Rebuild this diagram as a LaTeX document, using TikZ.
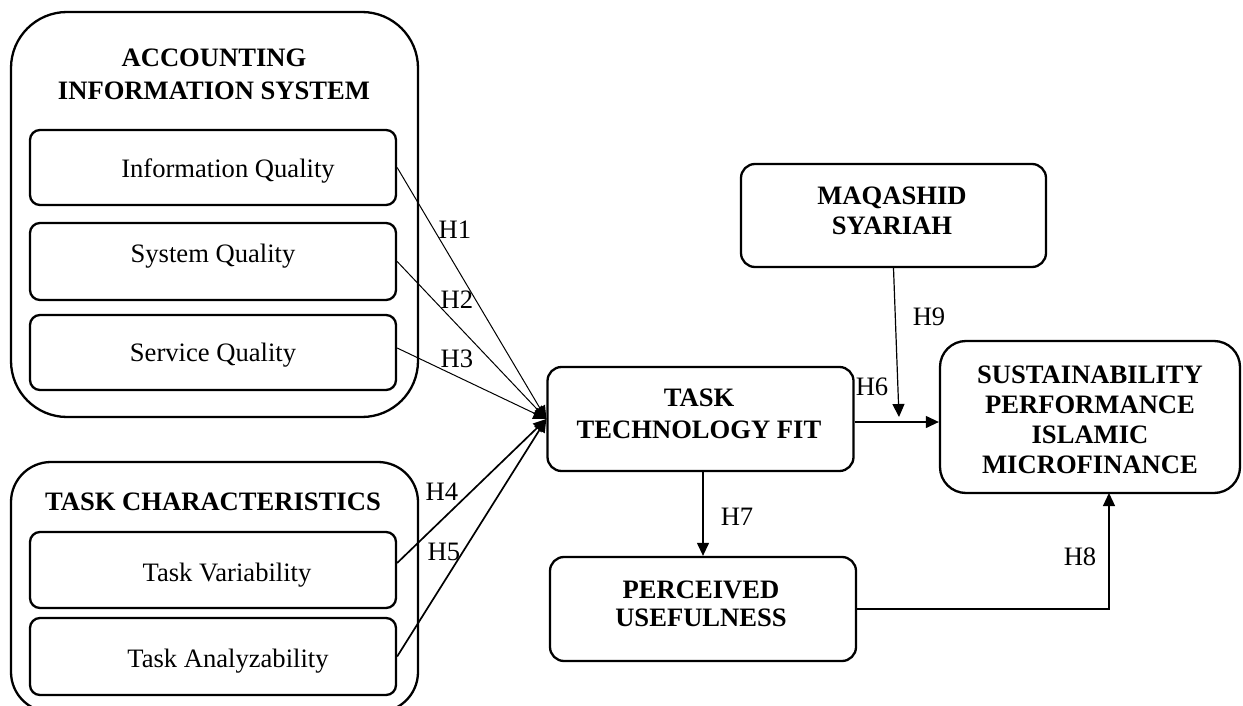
\documentclass[tikz,border=0pt]{standalone}
\usepackage{fontspec}
\setmainfont{Liberation Serif}
\usetikzlibrary{arrows.meta}
\begin{document}
\begin{tikzpicture}[x=0.5pt,y=-0.5pt,
  font=\fontsize{13.3pt}{15pt}\selectfont,
  group/.style={draw, line width=1.15pt, rounded corners=#1, inner sep=0pt, minimum width=203.5pt},
  item/.style={draw, line width=1.15pt, rounded corners=5pt, inner sep=0pt, minimum width=183pt},
  construct/.style={draw, line width=1.15pt, rounded corners=7pt, inner sep=0pt},
  heading/.style={font=\fontsize{13.3pt}{15pt}\selectfont\bfseries, align=center, inner sep=0pt},
  txt/.style={inner sep=0pt},
  hyp/.style={inner sep=0pt},
  link/.style={line width=0.6pt, -{Triangle[length=6.5pt,width=6pt]}},
  thinlink/.style={link, line width=0.5pt},
  thicklink/.style={link, line width=0.85pt},
]
\useasboundingbox (0,0) rectangle (1243,706);

% Accounting information system group
\node[group=28pt, minimum height=202.5pt] (ais) at (214.5,214.5) {};
\node[heading] (aist) at (214,74) {ACCOUNTING\\[1.5pt]INFORMATION SYSTEM};
\node[item, minimum height=37.5pt] (iq) at (213,167.5) {};
\node[txt] (iqt) at (228,171) {Information Quality};
\node[item, minimum height=38.5pt] (sq) at (213,261.5) {};
\node[txt] (sqt) at (213,256) {System Quality};
\node[item, minimum height=37.5pt] (svq) at (213,352.5) {};
\node[txt] (svqt) at (213,355) {Service Quality};

% Task characteristics group
\node[group=20pt, minimum height=125pt] (tc) at (214.5,587) {};
\node[heading] (tct) at (213,502) {TASK CHARACTERISTICS};
\node[item, minimum height=38pt] (tv) at (213,570) {};
\node[txt] (tvt) at (227,575) {Task Variability};
\node[item, minimum height=38.5pt] (ta) at (213,656.5) {};
\node[txt] (tat) at (228,661) {Task Analyzability};

% Constructs
\node[construct, minimum width=153pt, minimum height=52pt] (ttf) at (700.5,419) {};
\node[heading] (ttft) at (699,414) {TASK\\[1pt]TECHNOLOGY FIT};
\node[construct, minimum width=153pt, minimum height=52pt] (pu) at (703,609) {};
\node[heading] (put) at (701,604) {PERCEIVED\\[-1pt]USEFULNESS};
\node[construct, minimum width=152.5pt, minimum height=51.5pt] (ms) at (893.5,215.5) {};
\node[heading] (mst) at (892,211) {MAQASHID\\SYARIAH};
\node[construct, rounded corners=13pt, minimum width=150pt, minimum height=76pt] (sp) at (1090,417) {};
\node[heading] (spt) at (1090,419.5) {SUSTAINABILITY\\PERFORMANCE\\ISLAMIC\\MICROFINANCE};

% Connector end points
\coordinate (svqs) at ([yshift=2.25pt]svq.east);
\coordinate (tvs) at ([yshift=3.5pt]tv.east);
\coordinate (h6s) at ([yshift=-1.5pt]ttf.east);
\coordinate (h6e) at (h6s -| sp.west);
\coordinate (h9e) at (899,417);
\coordinate (h7s) at (703,471);
\coordinate (h7e) at (h7s |- pu.north);
\coordinate (h8e) at (1109,493);

% Hypothesised paths
\draw[thinlink] (iq.east) -- (ttf.west);
\draw[thinlink] (sq.east) -- (ttf.west);
\draw[thinlink] (svqs) -- (ttf.west);
\draw[thicklink] (tvs) -- (ttf.west);
\draw[thicklink] (ta.east) -- (ttf.west);
\draw[link] (h6s) -- (h6e);
\draw[link] (ms.south) -- (h9e);
\draw[link] (h7s) -- (h7e);
\draw[link] (pu.east) -| (h8e);

% Hypothesis labels
\node[hyp] (l1) at (455,230) {H1};
\node[hyp] (l2) at (457,300) {H2};
\node[hyp] (l3) at (457,359) {H3};
\node[hyp] (l4) at (442,492) {H4};
\node[hyp] (l5) at (444,552) {H5};
\node[hyp] (l6) at (872,387) {H6};
\node[hyp] (l7) at (737,517) {H7};
\node[hyp] (l8) at (1080,557) {H8};
\node[hyp] (l9) at (929,317) {H9};
\end{tikzpicture}
\end{document}
